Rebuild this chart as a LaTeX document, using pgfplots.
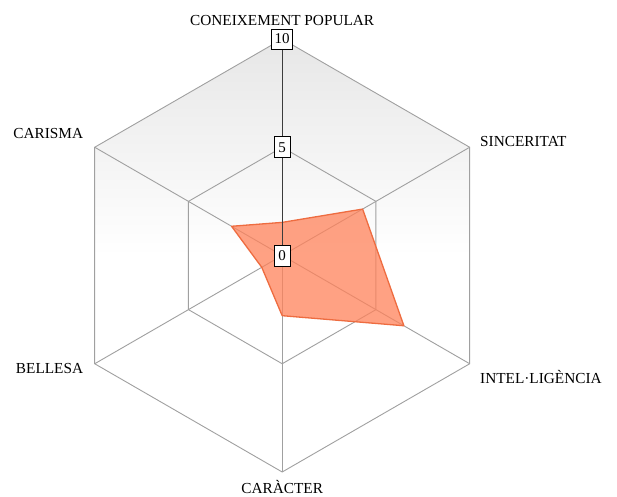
\documentclass[border=0pt]{standalone}
\usepackage{fontspec}
\setmainfont{Liberation Serif}
\usepackage{pgfplots}
\pgfplotsset{compat=1.18}
\usepgfplotslibrary{polar}
\definecolor{gridgray}{RGB}{160,160,160}
\definecolor{polyfill}{RGB}{255,130,90}
\definecolor{polyline}{RGB}{238,108,64}
\definecolor{axisdark}{RGB}{60,60,60}
\begin{document}
\begin{tikzpicture}
\useasboundingbox (-282.2bp,-241.5bp) rectangle (334.8bp,255.5bp);
\begin{polaraxis}[
  at={(0,0)}, anchor=center,
  scale only axis, width=433bp, height=433bp,
  ymin=0, ymax=10,
  hide axis, clip=false,
  xtick=\empty, ytick=\empty,
]
% background
\addplot[draw=gridgray, line width=0.9bp, top color=gray!19, bottom color=white, middle color=white]
  coordinates {(90,10) (30,10) (-30,10) (-90,10) (-150,10) (150,10) (90,10)} -- cycle;
% inner ring
\addplot[draw=gridgray, line width=0.9bp]
  coordinates {(90,5) (30,5) (-30,5) (-90,5) (-150,5) (150,5) (90,5)};
% spokes
\addplot[draw=gridgray, line width=0.9bp] coordinates {(30,0) (30,10)};
\addplot[draw=gridgray, line width=0.9bp] coordinates {(-30,0) (-30,10)};
\addplot[draw=gridgray, line width=0.9bp] coordinates {(-90,0) (-90,10)};
\addplot[draw=gridgray, line width=0.9bp] coordinates {(-150,0) (-150,10)};
\addplot[draw=gridgray, line width=0.9bp] coordinates {(150,0) (150,10)};
% data
\addplot[draw=polyline, line width=1.3bp, fill=polyfill, fill opacity=0.75, line join=round]
  coordinates {(90,1.53) (30,4.29) (-30,6.49) (-90,2.78) (-150,1.09) (150,2.70) (90,1.53)} -- cycle;
% main axis
\addplot[draw=axisdark, line width=1.2bp] coordinates {(90,0) (90,10)};
% tick boxes
\node[draw=black, fill=white, line width=0.9bp, inner xsep=3bp, minimum width=16bp, minimum height=21bp, font=\fontsize{15bp}{17bp}\selectfont] at (axis cs:90,0) {0};
\node[draw=black, fill=white, line width=0.9bp, inner xsep=3bp, minimum width=16bp, minimum height=21bp, font=\fontsize{15bp}{17bp}\selectfont] at (axis cs:90,5) {5};
\node[draw=black, fill=white, line width=0.9bp, inner xsep=3bp, minimum width=16bp, minimum height=20bp, font=\fontsize{15bp}{17bp}\selectfont] at (axis cs:90,10) {10};
% category labels
\node[anchor=base, inner sep=0pt, yshift=14bp, font=\fontsize{15.3bp}{18bp}\selectfont] at (axis cs:90,10) {CONEIXEMENT POPULAR};
\node[anchor=base west, inner sep=0pt, xshift=10.3bp, yshift=0.5bp, font=\fontsize{15.3bp}{18bp}\selectfont] at (axis cs:30,10) {SINCERITAT};
\node[anchor=base west, inner sep=0pt, xshift=10.3bp, yshift=-19.5bp, font=\fontsize{15.3bp}{18bp}\selectfont] at (axis cs:-30,10) {INTEL·LIGÈNCIA};
\node[anchor=base, inner sep=0pt, yshift=-21.5bp, font=\fontsize{15.3bp}{18bp}\selectfont] at (axis cs:-90,10) {CARÀCTER};
\node[anchor=base east, inner sep=0pt, xshift=-11.4bp, yshift=-9.5bp, font=\fontsize{15.3bp}{18bp}\selectfont] at (axis cs:-150,10) {BELLESA};
\node[anchor=base east, inner sep=0pt, xshift=-11.4bp, yshift=9bp, font=\fontsize{15.3bp}{18bp}\selectfont] at (axis cs:150,10) {CARISMA};
\end{polaraxis}
\end{tikzpicture}
\end{document}
